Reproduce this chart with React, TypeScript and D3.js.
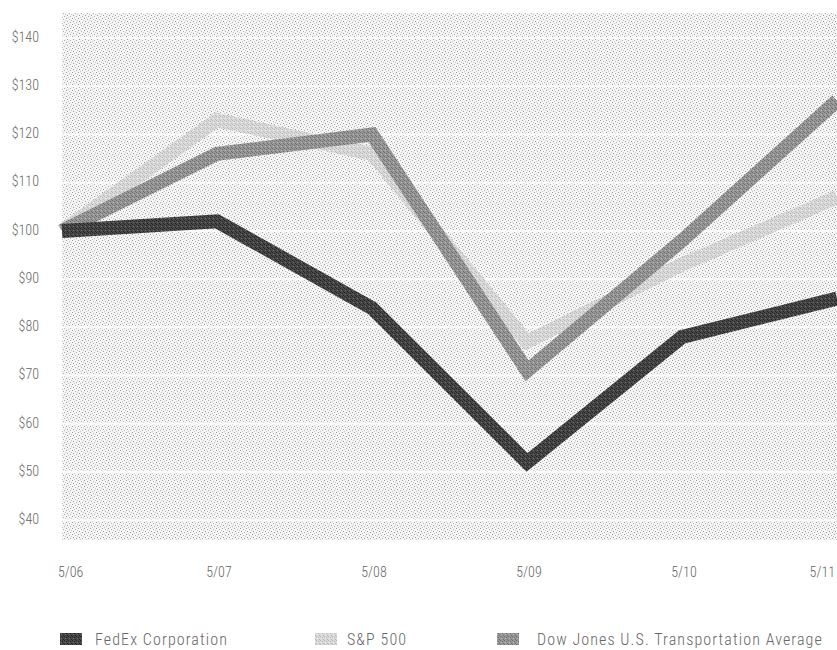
import React from "react";
import * as d3 from "d3";

const periods = ["5/06", "5/07", "5/08", "5/09", "5/10", "5/11"];
const fedex = [100, 102, 84, 52, 78, 86];
const sp500 = [100, 123, 116, 77, 93, 107];
const dowTransport = [100, 116, 120, 71, 98, 127];
const yTicks = [40, 50, 60, 70, 80, 90, 100, 110, 120, 130, 140];
const seriesNames = ["FedEx Corporation", "S&P 500", "Dow Jones U.S. Transportation Average"];

const W = 837;
const H = 650;
const FONT = "'Liberation Sans Narrow', 'Roboto Condensed', 'Arial Narrow', Roboto, sans-serif";

export default function App() {
  const plotLeft = 62;
  const plotRight = 837;
  const plotTop = 13;
  const plotBottom = 540;

  const x = d3.scalePoint<string>().domain(periods).range([plotLeft, plotRight]);
  const y = d3.scaleLinear().domain([35.9, 145.2]).range([plotBottom, plotTop]);

  const line = d3
    .line<number>()
    .x((_, i) => x(periods[i]) as number)
    .y((d) => y(d))
    .curve(d3.curveLinear);

  const series = [
    { name: seriesNames[1], values: sp500, pat: "pSP" },
    { name: seriesNames[2], values: dowTransport, pat: "pDJ" },
    { name: seriesNames[0], values: fedex, pat: "pFX" },
  ];

  const legend = [
    { name: seriesNames[0], pat: "pFX", x: 60, tx: 95 },
    { name: seriesNames[1], pat: "pSP", x: 315, tx: 347 },
    { name: seriesNames[2], pat: "pDJ", x: 497, tx: 537 },
  ];

  const mkPat = (id: string, base: string, dark: string, light: string) => (
    <pattern id={id} width={4} height={4} patternUnits="userSpaceOnUse">
      <rect width={4} height={4} fill={base} />
      <rect x={0} y={0} width={1} height={1} fill={dark} />
      <rect x={2} y={1} width={1} height={1} fill={dark} />
      <rect x={1} y={2} width={1} height={1} fill={light} />
      <rect x={3} y={3} width={1} height={1} fill={dark} />
    </pattern>
  );

  return (
    <svg width={W} height={H} style={{ position: "absolute", left: 0, top: 0, background: "#fff" }}>
      <defs>
        <pattern id="bg" width={6} height={6} patternUnits="userSpaceOnUse">
          <rect width={6} height={6} fill="#f5f5f5" />
          <rect x={0} y={0} width={1} height={1} fill="#9a9a9a" />
          <rect x={3} y={1} width={1} height={1} fill="#b0b0b0" />
          <rect x={1} y={3} width={1} height={1} fill="#9a9a9a" />
          <rect x={4} y={4} width={1} height={1} fill="#a8a8a8" />
          <rect x={5} y={2} width={1} height={1} fill="#c8c8c8" />
          <rect x={2} y={5} width={1} height={1} fill="#c8c8c8" />
        </pattern>
        {mkPat("pFX", "#464646", "#232323", "#6a6a6a")}
        {mkPat("pDJ", "#969696", "#6e6e6e", "#b4b4b4")}
        {mkPat("pSP", "#d8d8d8", "#b8b8b8", "#eeeeee")}
      </defs>

      <rect x={plotLeft} y={plotTop} width={plotRight - plotLeft} height={plotBottom - plotTop} fill="url(#bg)" />

      {yTicks.map((t) => (
        <line key={t} x1={plotLeft} x2={plotRight} y1={y(t)} y2={y(t)} stroke="#ffffff" strokeWidth={2} opacity={0.85} />
      ))}

      {series.map((s) => (
        <path
          key={s.name}
          d={line(s.values) || ""}
          fill="none"
          stroke={`url(#${s.pat})`}
          strokeWidth={14}
          strokeLinejoin="miter"
          strokeLinecap="butt"
        />
      ))}

      {yTicks.map((t) => (
        <text
          key={t}
          x={39}
          y={y(t)}
          textAnchor="end"
          dominantBaseline="middle"
          fontFamily={FONT}
          fontSize={14}
          fontWeight={300}
          fill="#666"
        >
          ${t}
        </text>
      ))}

      {periods.map((p, i) => {
        const px = x(p) as number;
        const anchor = i === 0 ? "start" : i === periods.length - 1 ? "end" : "middle";
        const tx = i === 0 ? 58 : i === periods.length - 1 ? 835 : px + 2;
        return (
          <text key={p} x={tx} y={577} textAnchor={anchor} fontFamily={FONT} fontSize={14} fontWeight={300} fill="#666">
            {p}
          </text>
        );
      })}

      {legend.map((l) => (
        <g key={l.name}>
          <rect x={l.x} y={633} width={22} height={12} fill={`url(#${l.pat})`} />
          <text
            x={l.tx}
            y={645}
            fontFamily={FONT}
            fontSize={16}
            fontWeight={300}
            letterSpacing={1.1}
            fill="#666"
          >
            {l.name}
          </text>
        </g>
      ))}
    </svg>
  );
}
